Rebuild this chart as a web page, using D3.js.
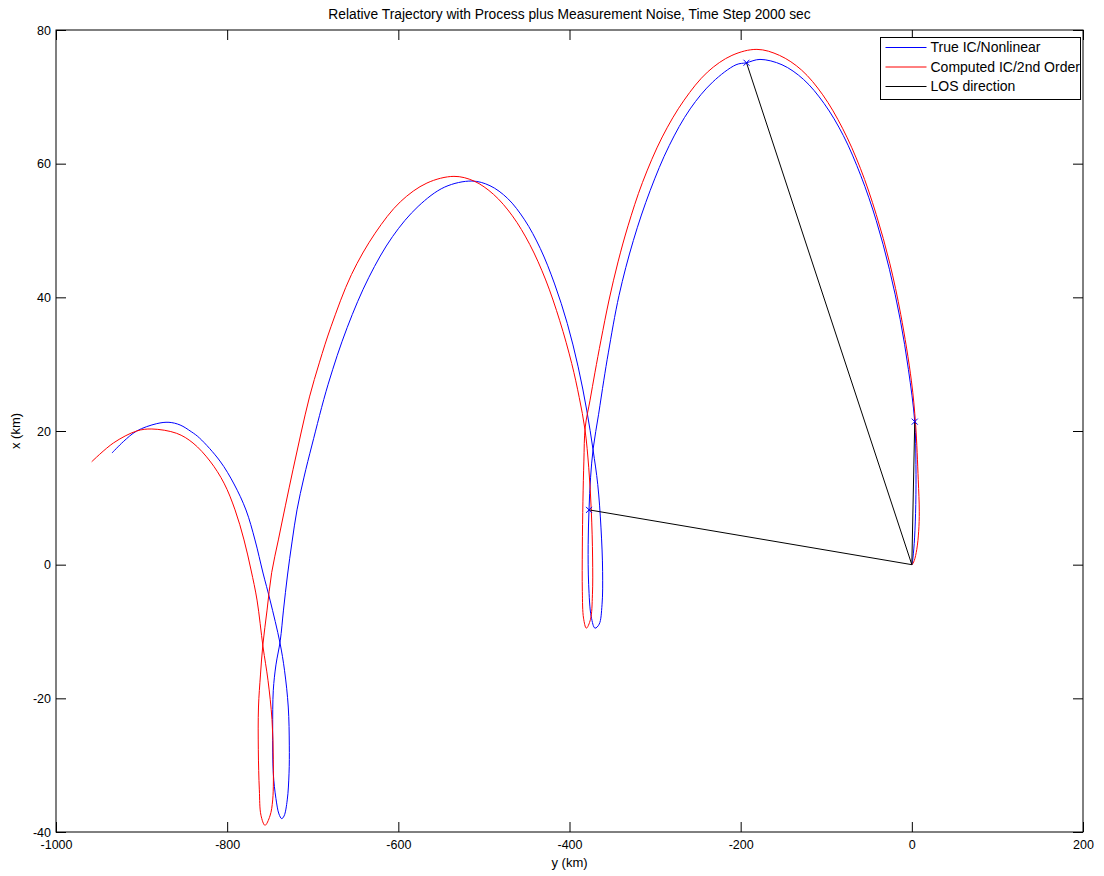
<!DOCTYPE html>
<html>
<head>
<meta charset="utf-8">
<script src="https://cdn.jsdelivr.net/npm/d3@7"></script>
<style>
  body { margin: 0; background: #fff; }
  svg { font-family: "Liberation Sans", Arial, sans-serif; }
</style>
</head>
<body>
<div id="chart"></div>
<script>
// [y (km), x (km)] pairs
const trueTrack = [
  [-934.6, 16.7], [-921.4, 18.4], [-905.7, 20.0], [-882.3, 21.1], [-868.0, 21.3],
  [-855.0, 20.9], [-842.0, 19.9], [-832.3, 18.95], [-808.4, 15.5], [-792.0, 12.07],
  [-778.0, 8.18], [-767.5, 3.7], [-758.1, -1.25], [-749.9, -5.3], [-738.3, -11.7],
  [-733.0, -15.8], [-728.6, -21.3], [-727.4, -27.0], [-727.7, -31.2], [-729.8, -35.2],
  [-733.5, -37.6], [-736.3, -38.0], [-739.5, -37.3], [-743.0, -35.0], [-746.1, -31.2],
  [-746.8, -24.7], [-746.1, -18.8], [-743.0, -15.0], [-738.0, -11.4], [-734.2, -6.8],
  [-729.5, -1.55], [-724.2, 3.4], [-718.4, 8.2], [-710.2, 13.1], [-700.9, 17.9],
  [-682.0, 27.0], [-659.7, 35.5], [-634.4, 43.0],
  [-606.7, 49.1], [-576.9, 53.6], [-545.8, 56.5], [-514.0, 57.4],
  [-492.9, 56.7], [-472.3, 54.8], [-452.5, 51.6], [-434.1, 47.3], [-417.4, 42.0],
  [-402.6, 36.1], [-389.9, 29.6], [-379.7, 23.0], [-372.5, 17.2],
  [-367.0, 12.0], [-363.2, 5.5], [-361.3, -1.0], [-362.0, -6.0], [-365.3, -8.9],
  [-370.2, -9.5], [-374.6, -7.8], [-377.6, -3.0], [-378.2, 3.0], [-377.2, 8.2],
  [-375.4, 13.0], [-372.3, 17.4],
  [-366.0, 22.5], [-359.9, 27.6], [-354.5, 31.8], [-342.1, 40.3], [-325.4, 48.5],
  [-305.7, 56.0], [-283.5, 62.7], [-259.0, 68.2], [-232.8, 72.2], [-205.4, 74.8],
  [-193.2, 75.1], [-177.4, 75.6],
  [-151.7, 74.8], [-126.5, 72.6], [-102.5, 69.0], [-80.0, 64.2], [-59.6, 58.2],
  [-41.6, 51.5], [-26.2, 44.2], [-13.6, 36.7], [-4.0, 29.2], [3.4, 21.4],
  [4.8, 15.0], [4.6, 9.0], [3.2, 4.0], [1.3, 1.0], [0.2, 0.0]
];

const computedTrack = [
  [-958.3, 15.4], [-933.0, 18.2], [-905.7, 20.0], [-888.0, 20.3], [-859.0, 19.65],
  [-839.9, 18.2], [-820.1, 15.5], [-803.7, 12.2], [-790.8, 8.2], [-780.3, 3.7],
  [-772.1, -0.8], [-765.1, -5.3], [-758.1, -12.3],
  [-752.3, -17.3], [-747.6, -23.2], [-746.1, -29.2], [-746.8, -35.2], [-750.0, -37.6],
  [-755.8, -39.0], [-760.5, -37.5], [-762.4, -33.7], [-763.6, -27.7], [-763.4, -21.3],
  [-761.1, -16.5], [-758.3, -12.0], [-753.4, -6.8], [-748.0, -1.2], [-740.2, 3.7],
  [-732.0, 8.8], [-723.1, 14.2], [-713.7, 19.7], [-703.8, 25.1], [-692.1, 30.3],
  [-678.7, 35.6], [-654.8, 43.4], [-627.1, 49.6], [-597.6, 54.3], [-566.6, 57.1],
  [-535.0, 58.1],
  [-511.6, 57.4], [-488.7, 55.4], [-466.8, 52.2], [-446.4, 47.9], [-427.8, 42.6],
  [-411.4, 36.5], [-397.4, 30.1], [-388.6, 25.0], [-381.9, 20.2],
  [-377.5, 14.5], [-374.5, 8.0], [-373.0, 1.0], [-373.2, -4.5], [-375.5, -8.2],
  [-380.3, -9.5], [-383.6, -8.0], [-385.0, -4.0], [-385.0, 2.5], [-384.3, 9.5],
  [-383.2, 15.5], [-381.6, 20.6],
  [-376.0, 24.6], [-370.2, 28.8], [-363.2, 33.6], [-353.8, 39.6], [-343.3, 45.3],
  [-331.6, 50.7], [-314.7, 57.2], [-291.6, 64.0], [-266.1, 69.5], [-238.8, 73.7],
  [-210.2, 76.2], [-181.0, 77.1],
  [-154.6, 76.2], [-128.8, 74.0], [-104.1, 70.3], [-81.0, 65.3], [-60.1, 59.3],
  [-41.6, 52.4], [-25.8, 45.1], [-12.9, 37.4], [-0.5, 27.5], [4.4, 21.0],
  [7.5, 12.7], [8.7, 8.0], [8.0, 5.0], [5.8, 2.3], [2.8, 0.6], [0.4, 0.0]
];

const losOrigin = [0, 0];
const losTargets = [[-193.2, 75.1], [-377.2, 8.2], [3.4, 21.4]];

const xTicks = [-1000, -800, -600, -400, -200, 0, 200];
const yTicks = [-40, -20, 0, 20, 40, 60, 80];

const legendItems = [
  { label: "True IC/Nonlinear", color: "#0000ff" },
  { label: "Computed IC/2nd Order", color: "#ff0000" },
  { label: "LOS direction", color: "#000000" }
];

const svgWidth = 1104, svgHeight = 876;
const margin = { top: 30, right: 21, bottom: 44, left: 56 };

const svg = d3.select("#chart").append("svg")
  .attr("width", svgWidth)
  .attr("height", svgHeight);

const x = d3.scaleLinear().domain([-1000, 200]).range([margin.left, svgWidth - margin.right]);
const y = d3.scaleLinear().domain([-40, 80]).range([svgHeight - margin.bottom, margin.top]);

svg.append("clipPath").attr("id", "plot")
  .append("rect")
  .attr("x", x(-1000)).attr("y", y(80))
  .attr("width", x(200) - x(-1000)).attr("height", y(-40) - y(80));

// axes, ticks pointing inward on all four sides
const fmt = d => String(d);
function styleAxis(g) {
  g.select(".domain").remove();
  g.selectAll(".tick line").attr("stroke", "#000");
  g.selectAll("text").attr("fill", "#000").attr("font-size", 12.5);
}
svg.append("g").attr("transform", `translate(0,${y(-40)})`)
  .call(d3.axisBottom(x).tickValues(xTicks).tickFormat(fmt).tickSizeInner(-10).tickSizeOuter(0).tickPadding(8))
  .call(styleAxis);
svg.append("g").attr("transform", `translate(0,${y(80)})`)
  .call(d3.axisTop(x).tickValues(xTicks).tickFormat("").tickSizeInner(-10).tickSizeOuter(0))
  .call(styleAxis);
svg.append("g").attr("transform", `translate(${x(-1000)},0)`)
  .call(d3.axisLeft(y).tickValues(yTicks).tickFormat(fmt).tickSizeInner(-10).tickSizeOuter(0).tickPadding(5))
  .call(styleAxis);
svg.append("g").attr("transform", `translate(${x(200)},0)`)
  .call(d3.axisRight(y).tickValues(yTicks).tickFormat("").tickSizeInner(-10).tickSizeOuter(0))
  .call(styleAxis);

const plot = svg.append("g").attr("clip-path", "url(#plot)");

const line = d3.line()
  .x(d => x(d[0]))
  .y(d => y(d[1]))
  .curve(d3.curveCatmullRom.alpha(0.5));

plot.append("path").datum(trueTrack)
  .attr("d", line).attr("fill", "none").attr("stroke", "#0000ff").attr("stroke-width", 1);
plot.append("path").datum(computedTrack)
  .attr("d", line).attr("fill", "none").attr("stroke", "#ff0000").attr("stroke-width", 1);

plot.selectAll(".los").data(losTargets).enter().append("line")
  .attr("class", "los")
  .attr("x1", x(losOrigin[0])).attr("y1", y(losOrigin[1]))
  .attr("x2", d => x(d[0])).attr("y2", d => y(d[1]))
  .attr("stroke", "#000").attr("stroke-width", 1);

// measurement markers
const mk = 3;
plot.selectAll(".mark").data(losTargets).enter().append("path")
  .attr("class", "mark")
  .attr("d", d => {
    const px = x(d[0]), py = y(d[1]);
    return `M${px - mk},${py - mk}L${px + mk},${py + mk}M${px - mk},${py + mk}L${px + mk},${py - mk}`;
  })
  .attr("stroke", "#0000ff").attr("stroke-width", 1).attr("fill", "none");

// box
svg.append("rect")
  .attr("x", x(-1000)).attr("y", y(80))
  .attr("width", x(200) - x(-1000)).attr("height", y(-40) - y(80))
  .attr("fill", "none").attr("stroke", "#000").attr("stroke-width", 1);

// title and axis labels
svg.append("text")
  .attr("x", (x(-1000) + x(200)) / 2).attr("y", 19)
  .attr("text-anchor", "middle").attr("font-size", 13.8)
  .text("Relative Trajectory with Process plus Measurement Noise, Time Step 2000 sec");
svg.append("text")
  .attr("x", (x(-1000) + x(200)) / 2).attr("y", 867)
  .attr("text-anchor", "middle").attr("font-size", 13)
  .text("y (km)");
svg.append("text")
  .attr("transform", `translate(20,${(y(80) + y(-40)) / 2}) rotate(-90)`)
  .attr("text-anchor", "middle").attr("font-size", 13)
  .text("x (km)");

// legend
const legend = svg.append("g").attr("transform", "translate(880.5,37.5)");
legend.append("rect")
  .attr("width", 200).attr("height", 62)
  .attr("fill", "#fff").attr("stroke", "#000").attr("stroke-width", 1);
legendItems.forEach((item, i) => {
  const ly = 10 + i * 19.5;
  legend.append("line")
    .attr("x1", 5).attr("x2", 46).attr("y1", ly).attr("y2", ly)
    .attr("stroke", item.color).attr("stroke-width", 1);
  legend.append("text")
    .attr("x", 50).attr("y", ly).attr("dy", "0.35em")
    .attr("font-size", 14)
    .text(item.label);
});
</script>
</body>
</html>
